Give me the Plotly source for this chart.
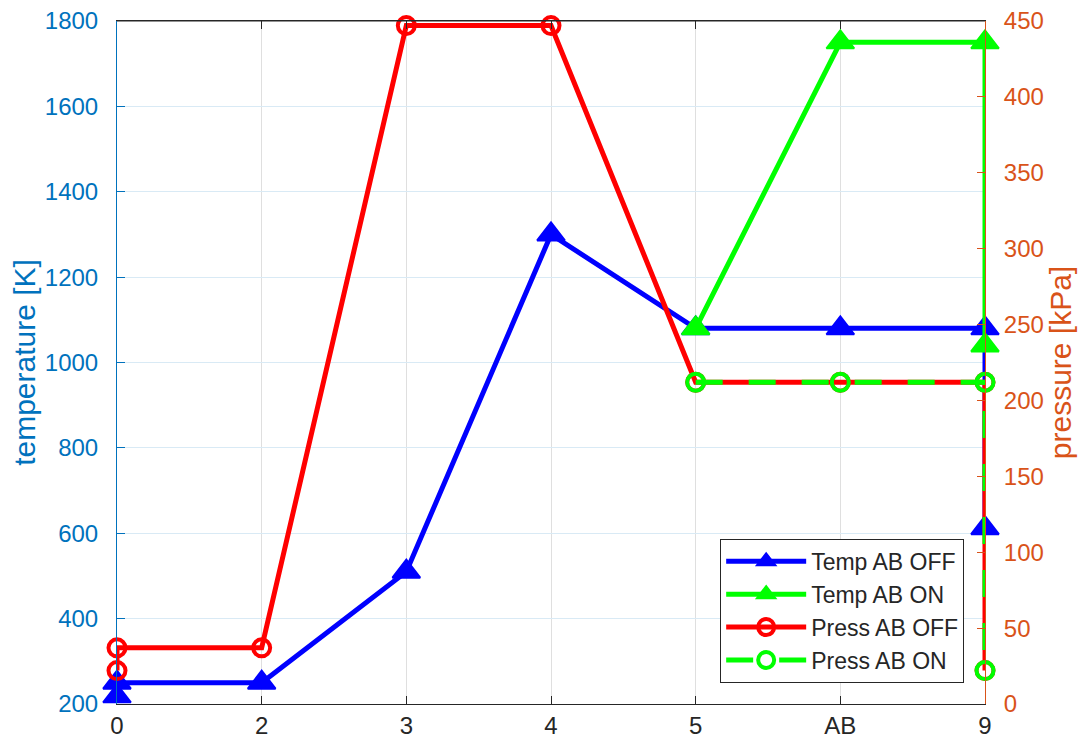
import plotly.graph_objects as go

categories = ['0', '2', '3', '4', '5', 'AB', '9']

temp_off_x = ['0', '0', '2', '3', '4', '5', 'AB', '9', '9']
temp_off = [218, 250, 250, 510, 1300, 1080, 1080, 1080, 612]

temp_on_x = ['5', 'AB', '9', '9']
temp_on = [1080, 1750, 1750, 1040]

press_off_x = ['0', '0', '2', '3', '4', '5', 'AB', '9', '9']
press_off = [22, 37, 37, 447, 447, 212, 212, 212, 22]

press_on_x = ['5', 'AB', '9', '9']
press_on = [212, 212, 212, 22]

FONT = "Liberation Sans"
LEFT_C = "#0072BD"
RIGHT_C = "#D95319"
DARK = "#262626"

fig = go.Figure()
fig.add_trace(go.Scatter(
    x=temp_off_x, y=temp_off, name="Temp AB OFF", mode="lines+markers",
    line=dict(color="#0000FF", width=5),
    marker=dict(symbol="triangle-up", size=24, color="#0000FF",
                line=dict(color="#0000FF", width=2)),
    cliponaxis=False, yaxis="y"))
fig.add_trace(go.Scatter(
    x=temp_on_x, y=temp_on, name="Temp AB ON", mode="lines+markers",
    line=dict(color="#00FF00", width=5),
    marker=dict(symbol="triangle-up", size=24, color="#00FF00",
                line=dict(color="#00FF00", width=2)),
    cliponaxis=False, yaxis="y"))
fig.add_trace(go.Scatter(
    x=press_off_x, y=press_off, name="Press AB OFF", mode="lines+markers",
    line=dict(color="#FF0000", width=5),
    marker=dict(symbol="circle-open", size=17,
                line=dict(color="#FF0000", width=4)),
    cliponaxis=False, yaxis="y2"))
fig.add_trace(go.Scatter(
    x=press_on_x, y=press_on, name="Press AB ON", mode="lines+markers",
    line=dict(color="#00FF00", width=5, dash="27px,26px"),
    marker=dict(symbol="circle-open", size=17,
                line=dict(color="#00FF00", width=4)),
    cliponaxis=False, yaxis="y2"))

fig.update_layout(
    width=1088, height=750,
    margin=dict(l=117, r=103, t=21, b=46),
    paper_bgcolor="white", plot_bgcolor="white",
    font=dict(family=FONT, size=24, color=DARK),
    showlegend=True,
    legend=dict(
        x=0.976, y=0.031, xanchor="right", yanchor="bottom",
        bgcolor="white", bordercolor=DARK, borderwidth=1,
        font=dict(family=FONT, size=23, color=DARK),
        itemwidth=80, tracegroupgap=0,
    ),
    xaxis=dict(
        type="category", categoryorder="array", categoryarray=categories,
        range=[0, 6], showgrid=True, gridcolor="#DFDFDF", gridwidth=1,
        showline=True, linecolor=DARK, linewidth=1, mirror="ticks",
        ticks="inside", ticklen=8, tickcolor=DARK,
        tickfont=dict(family=FONT, size=24, color=DARK),
        zeroline=False, automargin=False,
    ),
    yaxis=dict(
        range=[200, 1800], dtick=200, tick0=200,
        showgrid=True, gridcolor="#D9EAF5", gridwidth=1,
        showline=True, linecolor=LEFT_C, linewidth=1,
        ticks="inside", ticklen=8, tickcolor=LEFT_C,
        tickfont=dict(family=FONT, size=24, color=LEFT_C),
        ticklabelstandoff=13,
        title=dict(text="temperature [K]", font=dict(family=FONT, size=30, color=LEFT_C),
                   standoff=0),
        zeroline=False, automargin=False,
    ),
    yaxis2=dict(
        overlaying="y", side="right",
        range=[0, 450], dtick=50, tick0=0,
        showgrid=False,
        showline=True, linecolor=RIGHT_C, linewidth=1,
        ticks="inside", ticklen=8, tickcolor=RIGHT_C,
        tickfont=dict(family=FONT, size=24, color=RIGHT_C),
        ticklabelstandoff=13,
        title=dict(text="pressure [kPa]", font=dict(family=FONT, size=30, color=RIGHT_C),
                   standoff=0),
        zeroline=False, automargin=False,
    ),
)
# top border line of the box
fig.add_shape(type="line", xref="paper", yref="paper", x0=0, x1=1, y0=1, y1=1,
              line=dict(color=DARK, width=1), layer="above")

fig.write_html("out.html")
